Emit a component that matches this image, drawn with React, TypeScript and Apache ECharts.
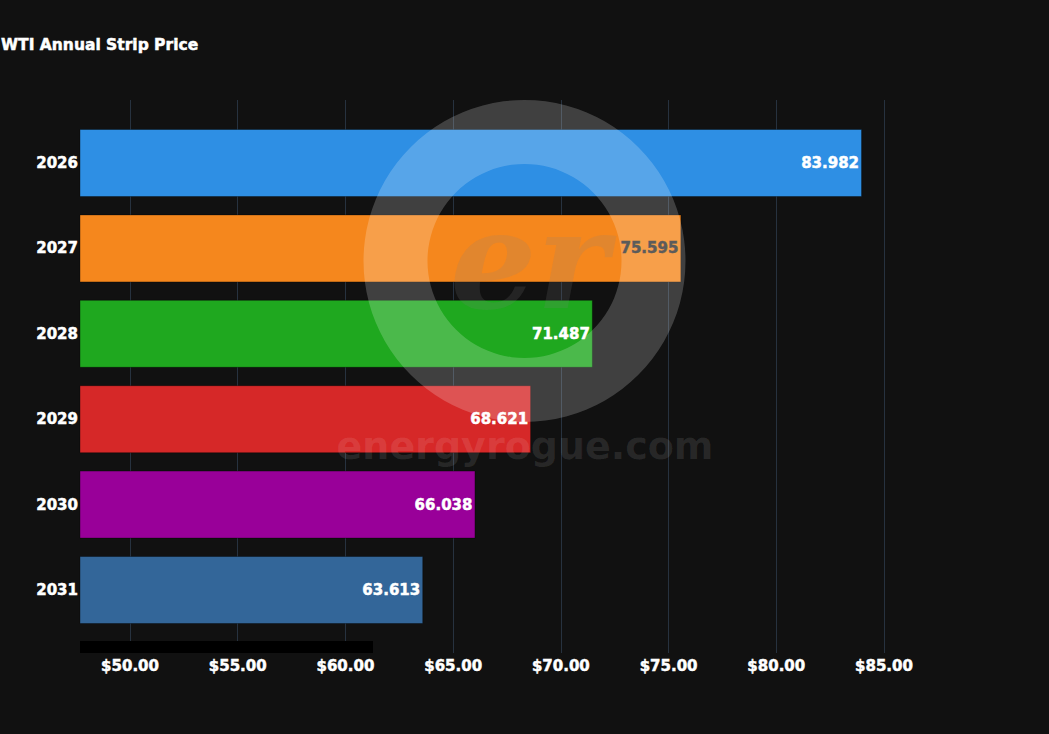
import React, { useEffect, useRef } from "react";
import * as echarts from "echarts";

const categories = ["2026", "2027", "2028", "2029", "2030", "2031"];
const prices = [83.982, 75.595, 71.487, 68.621, 66.038, 63.613];
const barColors = ["#2E8FE4", "#F5871D", "#1FA81F", "#D62828", "#990099", "#336699"];
const labelColors = ["#ffffff", "#333333", "#ffffff", "#ffffff", "#ffffff", "#ffffff"];
const titleText = "WTI Annual Strip Price";
const axisMin = 45;
const axisMax = 90;
const axisStep = 5;
const barAxisMin = 47.68;
const barAxisMax = 88;

const FONT = "'DejaVu Sans', sans-serif";

export default function App() {
  const ref = useRef<HTMLDivElement>(null);
  useEffect(() => {
    document.body.style.margin = "0";
    document.body.style.background = "#111111";
    const chart = echarts.init(ref.current!, null, { renderer: "svg" });
    const bold = {
      fontFamily: FONT,
      fontWeight: "bold",
      fontSize: 15,
      textBorderWidth: 0.5,
    };
    chart.setOption({
      animation: false,
      backgroundColor: "#111111",
      title: {
        text: titleText,
        left: -4,
        top: 32,
        textStyle: {
          color: "#ffffff",
          fontFamily: FONT,
          fontWeight: "bold",
          fontSize: 15.5,
          textBorderColor: "#ffffff",
          textBorderWidth: 0.5,
        },
      },
      grid: [
        { left: 22.3, right: 57.3, top: 100, bottom: 81 },
        { left: 80, right: 100.4, top: 120.3, height: 512.4 },
      ],
      xAxis: [
        {
          type: "value",
          gridIndex: 0,
          min: axisMin,
          max: axisMax,
          interval: axisStep,
          axisLine: { show: false },
          axisTick: { show: false },
          splitLine: {
            show: true,
            showMinLine: false,
            showMaxLine: false,
            lineStyle: { color: "#27323f", width: 1 },
          },
          axisLabel: {
            showMinLabel: false,
            showMaxLabel: false,
            margin: 5,
            color: "#ffffff",
            textBorderColor: "#ffffff",
            ...bold,
            formatter: (v: number) => "$" + v.toFixed(2),
          },
        },
        {
          type: "value",
          gridIndex: 1,
          min: barAxisMin,
          max: barAxisMax,
          show: false,
          splitLine: { show: false },
        },
      ],
      yAxis: [
        { type: "category", gridIndex: 0, data: [], show: false },
        {
          type: "category",
          gridIndex: 1,
          data: categories,
          inverse: true,
          axisLine: { show: false },
          axisTick: { show: false },
          splitLine: { show: false },
          axisLabel: {
            margin: 2,
            color: "#ffffff",
            textBorderColor: "#ffffff",
            ...bold,
          },
        },
      ],
      series: [
        {
          type: "bar",
          xAxisIndex: 1,
          yAxisIndex: 1,
          barWidth: 68,
          data: prices.map((v, i) => ({
            value: v,
            itemStyle: { color: barColors[i], borderColor: "rgba(0,0,0,0.35)", borderWidth: 1 },
            label: { color: labelColors[i], textBorderColor: labelColors[i] },
          })),
          label: {
            show: true,
            position: "insideRight",
            distance: 3,
            ...bold,
            formatter: (p: any) => p.value.toFixed(3),
          },
        },
      ],
      graphic: [
        {
          type: "rect",
          z: 50,
          shape: { x: 80, y: 641, width: 293, height: 12 },
          style: { fill: "#000000" },
        },
        {
          type: "ring",
          z: 100,
          silent: true,
          shape: { cx: 524.5, cy: 261, r: 161, r0: 97 },
          style: { fill: "rgba(255,255,255,0.2)" },
        },
        {
          type: "text",
          z: 100,
          silent: true,
          x: 529,
          y: 260,
          style: {
            text: "er",
            font: "italic bold 136px 'DejaVu Serif', serif",
            fill: "rgba(128,128,128,0.17)",
            align: "center",
            verticalAlign: "middle",
          },
        },
        {
          type: "text",
          z: 100,
          silent: true,
          x: 525,
          y: 446,
          style: {
            text: "energyrogue.com",
            font: "bold 38px 'DejaVu Sans', sans-serif",
            fill: "rgba(255,255,255,0.1)",
            align: "center",
            verticalAlign: "middle",
          },
        },
      ],
    });
    return () => chart.dispose();
  }, []);
  return <div ref={ref} style={{ width: 1049, height: 734 }} />;
}
